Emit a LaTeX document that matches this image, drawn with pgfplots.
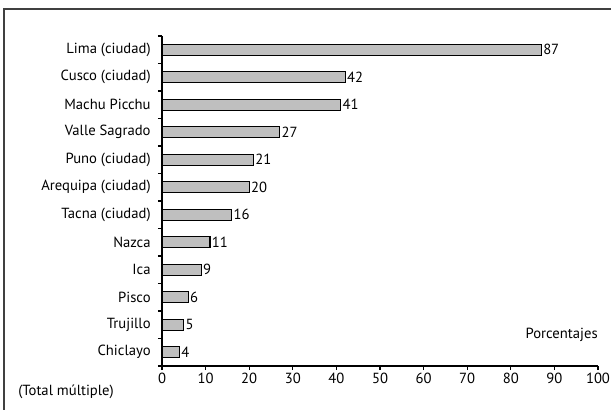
\documentclass[border=0pt]{standalone}
\usepackage{pgfplots}
\pgfplotsset{compat=1.18}
\usepackage{fontspec}
\setmainfont{PT Sans}
\begin{document}
\begin{tikzpicture}
\useasboundingbox (0,0) rectangle (458.25pt,307.5pt);
% frame (top and left visible)
\draw[line width=0.9pt,black!75] (3pt,0) -- (3pt,300.75pt) -- (458.25pt,300.75pt);
\begin{axis}[
    at={(121.5pt,33pt)}, anchor=south west,
    scale only axis, width=327pt, height=247.5pt,
    font=\fontsize{11}{13}\selectfont,
    xmin=0, xmax=100, xtick={0,10,...,100},
    ymin=-0.5, ymax=11.5, y dir=reverse,
    ytick={0,...,11},
    yticklabels={Lima (ciudad),Cusco (ciudad),Machu Picchu,Valle Sagrado,Puno (ciudad),Arequipa (ciudad),Tacna (ciudad),Nazca,Ica,Pisco,Trujillo,Chiclayo},
    major y tick style={draw=none},
    minor ytick={-0.5,0.5,...,11.5},
    axis x line*=bottom, axis y line*=left,
    axis line style={-, line width=0.9pt},
    tick style={line width=0.9pt, black},
    tick align=outside,
    major tick length=3pt, minor tick length=3pt,
    /pgf/number format/assume math mode=true,
    xticklabel style={yshift=1pt},
    yticklabel style={xshift=-2pt},
    clip=false,
]
\addplot[xbar, bar width=0.4, fill=black!25, draw=black, line width=0.9pt,
    nodes near coords, nodes near coords align={horizontal},
    every node near coord/.append style={font=\fontsize{11}{13}\selectfont, inner sep=1pt}]
coordinates {
(87,0) (42,1) (41,2) (27,3) (21,4) (20,5) (16,6) (11,7) (9,8) (6,9) (5,10) (4,11)
};
\node[anchor=east, inner sep=0pt] at (axis description cs:1,0.094) {Porcentajes};
\end{axis}
\node[anchor=west, inner sep=0pt, font=\fontsize{11}{13}\selectfont] at (13.5pt,13.5pt) {(Total múltiple)};
\end{tikzpicture}
\end{document}
